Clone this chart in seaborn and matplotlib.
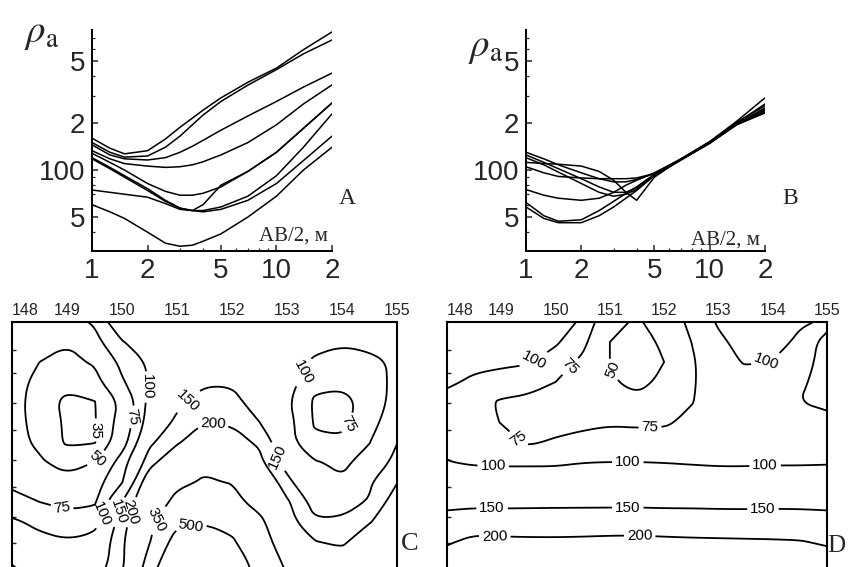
import numpy as np
import pandas as pd
import matplotlib
matplotlib.use('Agg')
import matplotlib.pyplot as plt
from matplotlib.path import Path
import seaborn as sns
from matplotlib.ticker import FixedLocator, FixedFormatter, NullFormatter, LogLocator

# ---- VES curves (apparent resistivity vs AB/2) ----
ab2 = [1, 1.25, 1.5, 2, 2.5, 3, 3.5, 4, 5, 7, 10, 14, 20]

a1 = [160, 138, 127, 133, 158, 188, 215, 242, 290, 365, 450, 590, 767]
a2 = [150, 130, 121, 123, 140, 165, 195, 225, 275, 350, 440, 555, 681]
a3 = [145, 125, 118, 116, 120, 130, 142, 155, 180, 222, 275, 340, 418]
a4 = [133, 118, 110, 106, 104, 105, 108, 113, 125, 150, 195, 265, 351]
a5 = [128, 112, 100, 82, 73, 69, 69, 71, 78, 98, 130, 185, 269]
a6 = [74.5, 72, 70, 67, 61, 56, 55, 60, 80, 98, 130, 185, 269]
a7 = [120, 104, 92, 76, 64, 57, 55, 55, 58, 68, 92, 140, 229]
a8 = [118, 102, 90, 74, 63, 57, 55, 54, 56, 64, 82, 115, 165]
a9 = [60, 54, 49, 40, 34, 32.5, 33, 35, 39, 50, 68, 100, 140]

b1 = [130, 118, 108, 96, 88, 84, 84, 87, 95, 118, 150, 200, 265]
b2 = [125, 112, 102, 88, 78, 72, 72, 77, 93, 117, 150, 198, 250]
b3 = [112, 110, 109, 106, 98, 86, 72, 64, 90, 118, 152, 202, 258]
b4 = [105, 96, 91, 89, 88, 88, 88, 89, 95, 117, 150, 198, 245]
b5 = [75, 69, 66, 64, 66, 72, 80, 86, 96, 118, 150, 196, 240]
b6 = [62, 51, 47, 48, 55, 63, 71, 78, 94, 117, 149, 195, 235]
b7 = [58, 49, 46, 46, 51, 58, 66, 74, 92, 116, 148, 195, 232]
b8 = [120, 108, 97, 82, 72, 68, 70, 75, 93, 118, 152, 205, 290]

x_ticks = [1, 2, 5, 10, 20]
x_ticklabels = ['1', '2', '5', '10', '2']
y_ticks = [50, 100, 200, 500]
y_ticklabels = ['5', '100', '2', '5']

# ---- resistivity maps (rows = depth steps, cols = profile pickets) ----
map_x = [148, 148.5, 149, 149.5, 150, 150.5, 151, 151.5, 152, 152.5, 153, 153.5, 154, 154.5, 155]
map_y = [0, 20, 40, 60, 80, 100, 120, 140, 160, 180, 200, 220, 240, 260, 280]

rho_c = [
    [65, 64, 66, 78, 130, 128, 130, 135, 135, 128, 118, 112, 110, 112, 115],
    [62, 53, 51, 68, 98, 118, 128, 135, 135, 128, 118, 106, 103, 108, 115],
    [60, 50, 46, 52, 82, 104, 125, 135, 135, 125, 112, 97, 90, 93, 105],
    [60, 44, 39, 44, 72, 103, 130, 145, 145, 130, 115, 80, 80, 90, 106],
    [58, 42, 32, 34.5, 54, 110, 140, 170, 165, 130, 105, 72, 68, 84, 112],
    [57, 44, 33, 34, 59, 115, 160, 200, 195, 150, 112, 73, 70, 88, 125],
    [56, 47, 33, 34, 64, 141, 190, 260, 220, 192, 112, 78, 78, 99, 148],
    [62, 52, 44, 50, 87, 175, 280, 330, 320, 215, 130, 102, 95, 110, 170],
    [72, 62, 55, 66, 98, 260, 330, 360, 345, 290, 165, 105, 103, 145, 197],
    [80, 75, 68, 72, 150, 290, 380, 450, 400, 300, 210, 134, 138, 153, 239],
    [106, 92, 88, 90, 175, 325, 470, 490, 460, 390, 230, 155, 155, 195, 265],
    [120, 110, 102, 110, 190, 345, 586, 620, 520, 400, 300, 204, 185, 273, 310],
    [148, 128, 115, 120, 188, 411, 700, 760, 600, 440, 330, 270, 255, 290, 330],
    [165, 145, 135, 140, 210, 480, 800, 850, 650, 470, 360, 300, 280, 310, 350],
    [180, 160, 150, 160, 240, 540, 880, 930, 700, 500, 390, 320, 300, 330, 370],
]

rho_d = [
    [115, 115, 115, 113, 110, 97, 55, 48, 58, 82, 103, 108, 110, 103, 97],
    [112, 112, 112, 110, 104, 82, 50, 40, 55, 75, 95, 110, 110, 95, 103],
    [108, 106, 104, 102, 88, 70, 50, 38, 50, 72, 92, 102, 99, 92, 108],
    [104, 96, 92, 88, 75, 62, 52, 45, 54, 73, 85, 90, 90, 96, 110],
    [92, 84, 72, 68, 65, 60, 56, 55, 60, 74, 85, 88, 90, 100, 104],
    [90, 86, 74, 66, 66, 70, 73, 72, 72, 80, 85, 88, 90, 93, 95],
    [94, 90, 84, 72, 78, 82, 83, 83, 84, 86, 88, 90, 91, 92, 93],
    [101, 96, 95, 95, 95, 99, 100, 100, 99, 97, 95, 95, 96, 96, 97],
    [122, 120, 120, 120, 121, 123, 124, 124, 123, 122, 121, 121, 122, 122, 122],
    [140, 139, 139, 140, 141, 141, 141, 141, 140, 140, 139, 139, 140, 140, 140],
    [165, 178, 176, 175, 174, 175, 176, 177, 175, 174, 173, 172, 171, 170, 165],
    [195, 212, 210, 209, 209, 210, 212, 212, 210, 208, 207, 206, 205, 203, 194],
    [225, 240, 240, 239, 239, 240, 241, 241, 240, 239, 238, 237, 236, 234, 224],
    [250, 265, 265, 264, 264, 265, 266, 266, 265, 264, 263, 262, 261, 259, 250],
    [275, 290, 290, 289, 289, 290, 291, 291, 290, 289, 288, 287, 286, 284, 275],
]

levels_c = [35, 50, 75, 100, 150, 200, 350, 500]
levels_d = [50, 75, 100, 150, 200]
map_ticks = [148, 149, 150, 151, 152, 153, 154, 155]

# where the isoline numbers sit
labels_c = [(149.6, 108), (149.56, 138), (150.2, 95), (150.45, 65), (151.18, 78),
            (151.65, 100), (152.82, 135), (153.29, 50), (154.1, 101), (148.9, 190),
            (149.65, 192), (149.95, 190), (150.16, 190), (150.64, 198), (151.27, 210)]
labels_d = [(149.62, 40), (150.3, 46), (151.04, 48), (149.34, 115), (151.74, 105),
            (153.89, 40), (148.85, 145), (151.33, 140), (153.86, 145),
            (148.83, 186), (151.33, 186), (153.82, 186), (148.88, 213), (151.55, 213)]


def long_df(curves):
    parts = []
    for i, vals in enumerate(curves):
        parts.append(pd.DataFrame({'ab2': ab2, 'rho': vals, 'curve': i}))
    return pd.concat(parts, ignore_index=True)


df_a = long_df([a1, a2, a3, a4, a5, a6, a7, a8, a9])
df_b = long_df([b1, b2, b3, b4, b5, b6, b7, b8])

sns.set_style('ticks')
plt.rcParams['font.family'] = ['Liberation Sans', 'DejaVu Sans']
plt.rcParams['mathtext.fontset'] = 'stix'

W, H = 853, 567
fig = plt.figure(figsize=(W / 100, H / 100), dpi=100)


def px_axes(left, top, right, bottom):
    return fig.add_axes([left / W, 1 - bottom / H, (right - left) / W, (bottom - top) / H])


def curve_panel(ax, df):
    sns.lineplot(data=df, x='ab2', y='rho', units='curve', estimator=None,
                 color='black', lw=1.1, ax=ax, legend=False)
    ax.set_xscale('log')
    ax.set_yscale('log')
    ax.set_xlim(1, 20)
    ax.set_ylim(30.3, 789)
    ax.set_xlabel('')
    ax.set_ylabel('')
    ax.xaxis.set_major_locator(FixedLocator(x_ticks))
    ax.xaxis.set_major_formatter(FixedFormatter(x_ticklabels))
    ax.yaxis.set_major_locator(FixedLocator(y_ticks))
    ax.yaxis.set_major_formatter(FixedFormatter(y_ticklabels))
    ax.xaxis.set_minor_locator(LogLocator(subs=np.arange(2, 10)))
    ax.yaxis.set_minor_locator(LogLocator(subs=np.arange(2, 10)))
    ax.xaxis.set_minor_formatter(NullFormatter())
    ax.yaxis.set_minor_formatter(NullFormatter())
    ax.tick_params(which='major', direction='in', length=4, width=1.1, labelsize=20)
    ax.tick_params(which='minor', direction='in', length=2, width=0.9)
    ax.tick_params(axis='x', pad=5)
    ax.tick_params(axis='y', pad=5)
    sns.despine(ax=ax)
    for s in ['left', 'bottom']:
        ax.spines[s].set_linewidth(1.4)
        ax.spines[s].set_color('black')


def chaikin(pts, closed, n=3):
    # corner cutting, only to soften the drawn isolines
    for _ in range(n):
        if closed:
            nxt = np.roll(pts, -1, axis=0)
            out = np.empty((2 * len(pts), 2))
            out[0::2] = 0.75 * pts + 0.25 * nxt
            out[1::2] = 0.25 * pts + 0.75 * nxt
            pts = out
        else:
            if len(pts) < 3:
                return pts
            out = np.empty((2 * (len(pts) - 1), 2))
            out[0::2] = 0.75 * pts[:-1] + 0.25 * pts[1:]
            out[1::2] = 0.25 * pts[:-1] + 0.75 * pts[1:]
            pts = np.vstack([pts[0], out, pts[-1]])
    return pts


def soften(cs):
    new_paths = []
    for path in cs.get_paths():
        verts, codes = path.vertices, path.codes
        if len(verts) == 0:
            new_paths.append(path)
            continue
        if codes is None:
            codes = np.full(len(verts), Path.LINETO)
            codes[0] = Path.MOVETO
        starts = list(np.where(codes == Path.MOVETO)[0]) + [len(verts)]
        all_v, all_c = [], []
        for s, e in zip(starts[:-1], starts[1:]):
            seg = verts[s:e]
            closed = codes[e - 1] == Path.CLOSEPOLY or np.allclose(seg[0], seg[-1])
            if closed and len(seg) > 3:
                sm = chaikin(seg[:-1], True)
                sm = np.vstack([sm, sm[0]])
            else:
                sm = chaikin(seg, False)
            c = np.full(len(sm), Path.LINETO)
            c[0] = Path.MOVETO
            all_v.append(sm)
            all_c.append(c)
        new_paths.append(Path(np.vstack(all_v), np.concatenate(all_c)))
    cs._paths = new_paths
    cs.stale = True


def map_panel(ax, grid, levels, label_pos):
    X, Y = np.meshgrid(map_x, map_y)
    Z = np.log10(np.array(grid, dtype=float))
    cs = ax.contour(X, Y, Z, levels=np.log10(levels), colors='black', linewidths=1.3)
    soften(cs)
    ax.clabel(cs, manual=label_pos, inline=True, inline_spacing=3, fontsize=11,
              fmt=lambda v: f'{10 ** v:.0f}')
    ax.set_xlim(148, 155)
    ax.set_ylim(280, 0)
    ax.xaxis.tick_top()
    ax.set_xticks(map_ticks)
    ax.set_xticklabels([str(t) for t in map_ticks])
    ax.get_xticklabels()[0].set_horizontalalignment('left')
    ax.set_yticks([28, 51, 81, 108, 138, 165, 195, 221])
    ax.set_yticklabels([])
    ax.tick_params(axis='x', length=0, pad=3, labelsize=11.5)
    ax.tick_params(axis='y', direction='in', length=3, width=1.0)
    for s in ax.spines.values():
        s.set_linewidth(1.5)
        s.set_color('black')


ax_a = px_axes(92, 30, 332, 251)
ax_b = px_axes(526, 30, 765, 251)
curve_panel(ax_a, df_a)
curve_panel(ax_b, df_b)

ax_c = px_axes(12, 322, 397, 602)
ax_d = px_axes(447, 322, 827, 602)
map_panel(ax_c, rho_c, levels_c, labels_c)
map_panel(ax_d, rho_d, levels_d, labels_d)

serif = ['Liberation Serif', 'DejaVu Serif']


def ftext(x, y, s, **kw):
    fig.text(x / W, 1 - y / H, s, ha='center', va='center', **kw)


# axis titles
ftext(42, 34, r'$\rho_{\mathrm{a}}$', fontsize=28)
ftext(486, 48, r'$\rho_{\mathrm{a}}$', fontsize=28)
ftext(293, 236, 'AB/2, м', fontsize=15, family=serif)
ftext(725, 240, 'AB/2, м', fontsize=15, family=serif)

# panel letters
ftext(347, 198, 'A', fontsize=17, family=serif)
ftext(790, 198, 'B', fontsize=17, family=serif)
ftext(410, 544, 'C', fontsize=19, family=serif)
ftext(836, 546, 'D', fontsize=18, family=serif)

fig.savefig('out.png', dpi=100)
